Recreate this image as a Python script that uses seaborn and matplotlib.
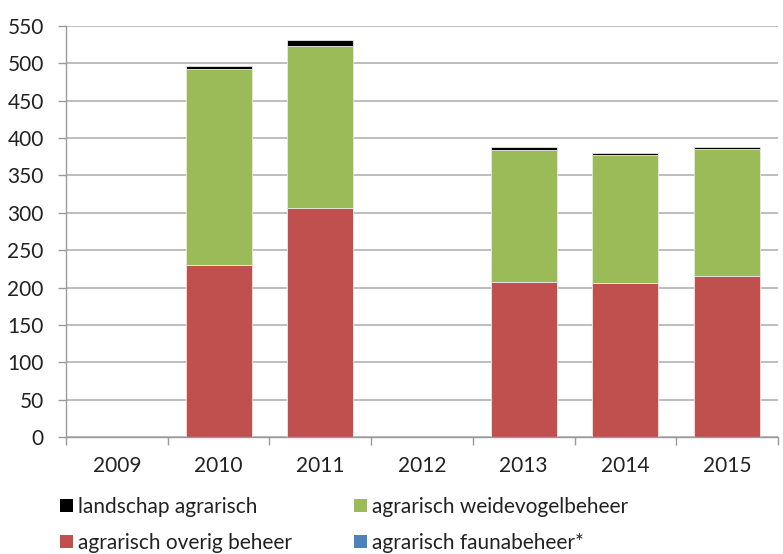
import numpy as np
import pandas as pd
import matplotlib
matplotlib.use("Agg")
import matplotlib.pyplot as plt
import seaborn as sns
from matplotlib.patches import Patch

years = ["2009", "2010", "2011", "2012", "2013", "2014", "2015"]
overig_beheer = [0, 230, 307, 0, 208, 206, 216]
fauna_beheer = [0, 0, 0, 0, 0, 0, 0]
weidevogel_beheer = [0, 263, 216, 0, 176, 172, 170]
landschap_agrarisch = [0, 4, 8, 0, 4, 2.5, 1.5]

series_names = ["agrarisch overig beheer", "agrarisch faunabeheer*",
                "agrarisch weidevogelbeheer", "landschap agrarisch"]
series_values = [overig_beheer, fauna_beheer, weidevogel_beheer, landschap_agrarisch]
colors = {"agrarisch overig beheer": "#c0504d",
          "agrarisch faunabeheer*": "#4f81bd",
          "agrarisch weidevogelbeheer": "#9bbb59",
          "landschap agrarisch": "#000000"}

sns.set_theme(style="white")
plt.rcParams["font.family"] = ["Lato", "DejaVu Sans"]

fig = plt.figure(figsize=(7.83, 5.54), dpi=100)
ax = fig.add_axes([66 / 783, 1 - 437 / 554, (778 - 66) / 783, (437 - 26) / 554])

bottom = np.zeros(len(years))
for name, vals in zip(series_names, series_values):
    df = pd.DataFrame({"year": years, "value": vals})
    sns.barplot(data=df, x="year", y="value", color=colors[name], ax=ax,
                width=0.65, bottom=bottom, saturation=1, edgecolor="#e8e8e8",
                linewidth=0.6, order=years)
    bottom = bottom + np.array(vals, dtype=float)

ax.set_ylim(0, 550)
ax.set_xlim(-0.5, 6.5)
ax.set_yticks(np.arange(0, 551, 50))
ax.yaxis.grid(True, color="#b3b3b3", linewidth=1.2)
ax.set_axisbelow(True)
ax.set_xlabel("")
ax.set_ylabel("")

for side in ["top", "right"]:
    ax.spines[side].set_visible(False)
for side in ["left", "bottom"]:
    ax.spines[side].set_color("#9a9a9a")
    ax.spines[side].set_linewidth(1.0)

ax.tick_params(axis="y", which="major", direction="out", length=6, width=1,
               color="#9a9a9a", labelsize=15, pad=10, labelcolor="#222222", left=True)
ax.tick_params(axis="x", which="major", length=0, labelsize=15, pad=14, labelcolor="#222222")
ax.set_xticks(np.arange(-0.5, 7, 1), minor=True)
ax.tick_params(axis="x", which="minor", direction="out", length=6, width=1,
               color="#9a9a9a", bottom=True)

# two rows, filled column by column
legend_order = ["landschap agrarisch", "agrarisch overig beheer",
                "agrarisch weidevogelbeheer", "agrarisch faunabeheer*"]
handles = [Patch(facecolor=colors[n], edgecolor="none", label=n) for n in legend_order]
fig.legend(handles=handles, loc="upper left", bbox_to_anchor=(60 / 783, 1 - 497 / 554),
           ncol=2, frameon=False, fontsize=15, handlelength=0.6, handleheight=0.6,
           handletextpad=0.25, columnspacing=3.0, labelspacing=0.75,
           borderpad=0, borderaxespad=0, labelcolor="#222222")

fig.savefig("out.png", dpi=100)
